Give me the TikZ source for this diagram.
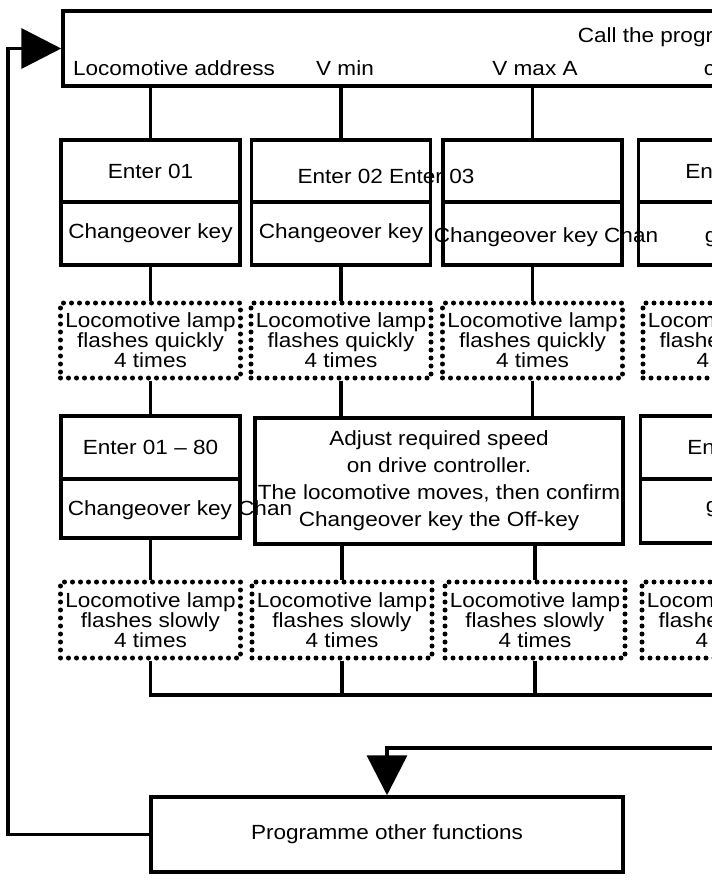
\documentclass[tikz,border=0pt]{standalone}
\usepackage{fontspec}
\setmainfont{Liberation Sans}[FakeStretch=1.1]
\usetikzlibrary{arrows.meta}
\begin{document}
\begin{tikzpicture}
  [x=1pt,y=-1pt,line width=3.5pt,
   every node/.style={font=\fontsize{20.5}{20}\selectfont,inner sep=0,align=center},
   box/.style={draw,minimum width=179pt},
   dotbox/.style={draw,minimum width=180pt,minimum height=75pt,line width=5pt,dash pattern=on 0pt off 8pt,line cap=round},
   tip/.style={-{Triangle[length=40pt,width=40pt]}}]

  \useasboundingbox (0,0) rectangle (712,881);
  \clip (0,0) rectangle (712,881);

  % top bar
  \node[box,minimum width=1000pt,minimum height=75pt] (top) at (563,48.5) {};
  \node[anchor=base west] (tcall) at (576,42) {Call the programming mode};
  \node[anchor=base] (tloco) at (174,75) {Locomotive address};
  \node[anchor=base] (tvmin) at (345,75) {V min};
  \node[anchor=base] (tvmax) at (535,75) {V max A};
  \node[anchor=base west] (tc) at (702,75) {c};

  % first row
  \node[box,minimum height=62pt] (e1) at (150.5,171) {Enter 01};
  \node[box,minimum height=63pt] (k1) at (150.5,233.5) {Changeover key};
  \node[box,minimum height=62pt] (e2) at (341,171) {};
  \node[box,minimum height=63pt] (k2) at (341,233.5) {Changeover key};
  \node[box,minimum height=62pt] (e3) at (532.5,171) {};
  \node[box,minimum height=63pt] (k3) at (532.5,233.5) {};
  \node[box,minimum height=62pt] (e4) at (728,171) {Enter 04};
  \node[box,minimum height=63pt] (k4) at (728,233.5) {};
  \node[anchor=base] (t23) at (386,183) {Enter 02 Enter 03};
  \node[anchor=base west] (t3) at (432,242) {Changeover key Chan};
  \node[anchor=base west] (t4) at (703,242) {g};

  \node[dotbox] (q1) at (150.5,340.5) {Locomotive lamp\\flashes quickly\\4 times};
  \node[dotbox] (q2) at (341,340.5) {Locomotive lamp\\flashes quickly\\4 times};
  \node[dotbox] (q3) at (532.5,340.5) {Locomotive lamp\\flashes quickly\\4 times};
  \node[dotbox] (q4) at (733,340.5) {Locomotive lamp\\flashes quickly\\4 times};

  % second row
  \node[box,minimum height=63pt] (r1) at (150.5,447.5) {Enter 01 -- 80};
  \node[box,minimum height=59pt] (rk1) at (150.5,508.5) {};
  \node[anchor=base west] (tr1) at (66,515) {Changeover key Chan};
  \node[box,minimum width=368pt,minimum height=126pt,font=\fontsize{20.5}{27}\selectfont] (adj) at (439,481)
    {Adjust required speed\\on drive controller.\\The locomotive moves, then confirm\\Changeover key the Off-key};
  \node[box,minimum height=63pt] (r4) at (730,447.5) {Enter 01};
  \node[box,minimum height=64pt] (rk4) at (730,511) {};
  \node[anchor=base west] (tr4) at (704,512) {g};

  \node[dotbox,minimum height=76pt] (s1) at (150.5,620) {Locomotive lamp\\flashes slowly\\4 times};
  \node[dotbox,minimum height=76pt] (s2) at (342,620) {Locomotive lamp\\flashes slowly\\4 times};
  \node[dotbox,minimum height=76pt] (s3) at (535,620) {Locomotive lamp\\flashes slowly\\4 times};
  \node[dotbox,minimum height=76pt] (s4) at (732,620) {Locomotive lamp\\flashes quickly\\4 times};

  \node[box,minimum width=472pt,minimum height=75pt] (prog) at (387,834.5) {Programme other functions};

  \coordinate (bus) at (720,695);
  \coordinate (feed) at (720,748);
  \coordinate (ret) at (8,48);

  \foreach \i in {1,2,3} {
    \draw (e\i.north) -- (e\i.north |- top.south);
    \draw (k\i.south) -- (q\i.north);
  }
  \draw (q1.south) -- (r1.north);
  \draw (q2.south) -- (q2.south |- adj.north);
  \draw (q3.south) -- (q3.south |- adj.north);
  \draw (rk1.south) -- (s1.north);
  \draw (s2.north) -- (s2.north |- adj.south);
  \draw (s3.north) -- (s3.north |- adj.south);
  \draw (s1.south) |- (bus);
  \draw (s2.south) -- (s2.south |- bus);
  \draw (s3.south) -- (s3.south |- bus);
  \draw[tip] (feed) -| (prog.north);
  \draw[tip] (prog.west) -- (prog.west -| ret) |- (top.west);
\end{tikzpicture}
\end{document}
